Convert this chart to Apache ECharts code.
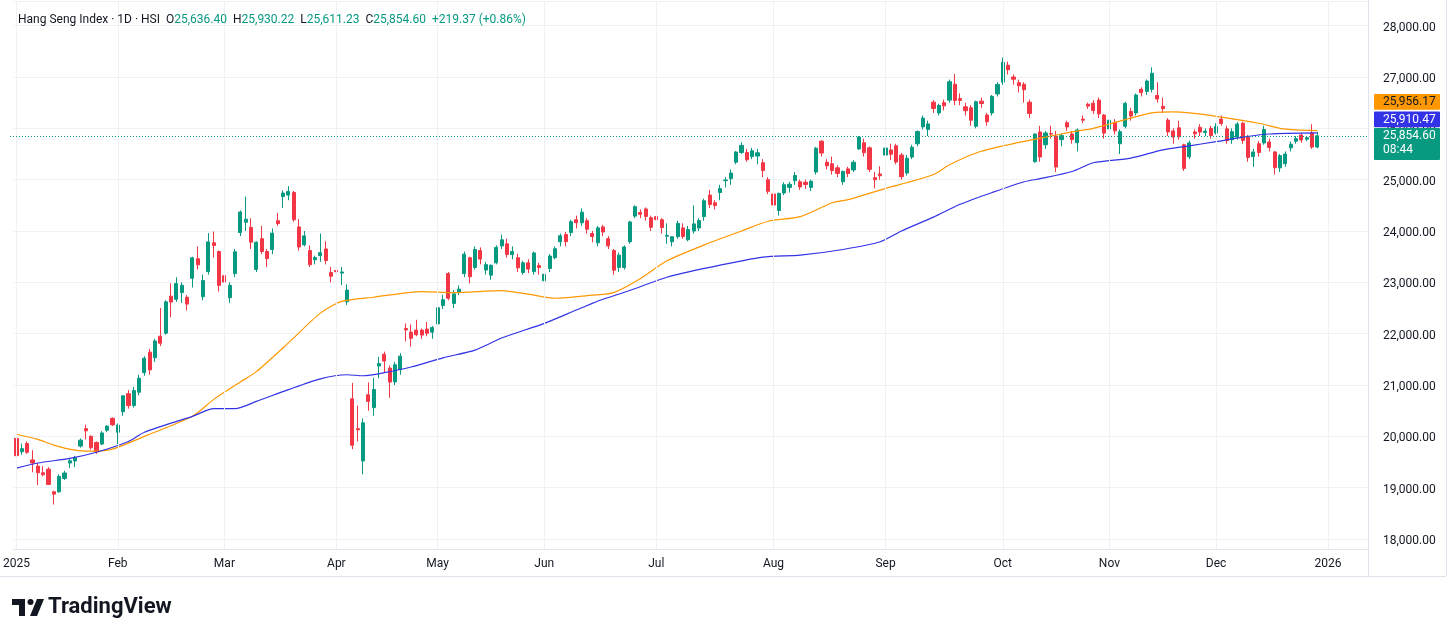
<!DOCTYPE html>
<html><head><meta charset="utf-8">
<script src="https://cdn.jsdelivr.net/npm/echarts@6/dist/echarts.min.js"></script>
<style>html,body{margin:0;padding:0;background:#fff;}#c{width:1456px;height:634px;}</style>
</head><body><div id="c"></div>
<script>
// ---------------- DATA ----------------
const opens = [
19960,19700,19860,19540,19420,19290,19360,18920,18920,19180,
19480,19520,19810,20150,20000,19880,19850,20120,20350,20080,
20480,20830,20600,20860,21240,21640,21530,21950,22010,22730,
22670,22800,22710,23080,23460,22720,23210,23770,23600,23130,
22700,23170,23970,24170,24070,23250,23850,23600,23640,24200,
24670,24700,24750,24080,23730,23620,23440,23520,23650,23190,
23230,23180,22620,20730,20150,19520,20810,20560,21370,21600,
21330,21060,21300,22100,22030,22070,22070,22090,22030,22190,
22550,23170,22590,22800,23170,23480,23290,23620,23240,23140,
23380,23710,23750,23540,23480,23190,23380,23210,23330,23030,
23270,23480,23790,23930,23970,24220,24160,24200,23950,23770,
24080,23850,23620,23290,23290,23790,24290,24360,24430,24260,
24280,24220,23900,23790,23890,24060,23830,24000,24060,24280,
24700,24550,24750,24980,25020,25340,25530,25530,25450,25460,
25330,25000,24720,24400,24740,24850,24980,24960,24950,24850,
25150,25750,25340,25310,25230,24960,25210,25190,25600,25720,
25620,25040,25110,25480,25580,25660,25480,25130,25440,25700,
26030,25980,26510,26300,26500,26550,26860,26580,26420,26400,
26040,26530,26260,26300,26670,26900,27230,27000,26890,26860,
26510,25350,25930,25680,25900,25850,25780,26110,25890,25720,
26180,26470,26490,26550,26260,25990,26120,25700,26040,26330,
26300,26760,26720,26760,26640,26430,26160,25950,26010,25680,
25445,25930,26020,25920,26000,25910,26180,25990,25780,25830,
26100,25830,25450,25700,25715,25735,25540,25230,25310,25620,
25750,25870,25790,25910,25636.40];
const highs = [
19990,19860,19900,19730,19480,19420,19400,18940,19260,19330,
19580,19620,19960,20230,20020,19900,20100,20220,20370,20250,
20800,20900,20960,21200,21560,21700,21900,22500,22650,22980,
23100,23000,22750,23500,23700,23150,23960,23990,23620,23400,
23000,23650,24400,24670,24250,23800,24100,23650,24050,24350,
24790,24874,24780,24230,24000,23720,23520,23950,23800,23300,
23400,23300,22960,21040,20600,20350,21050,21140,21550,21650,
21380,21450,21620,22200,22180,22270,22100,22230,22150,22560,
22760,23200,22850,22940,23600,23500,23700,23680,23400,23350,
23720,23930,23850,23700,23560,23420,23450,23600,23380,23200,
23550,23700,23950,23980,24220,24300,24440,24250,24000,24100,
24120,23900,23650,23580,23720,24200,24500,24420,24460,24300,
24300,24250,24150,23900,24200,24150,24100,24500,24250,24630,
24800,24600,24900,25050,25200,25560,25730,25600,25620,25600,
25400,25050,24750,24750,24950,24960,25150,25000,25000,25000,
25640,25770,25400,25450,25280,25180,25250,25380,25850,25800,
25650,25150,25260,25650,25700,25700,25520,25480,25680,25960,
26250,26150,26550,26480,26560,26950,27060,26680,26500,26450,
26540,26600,26300,26650,26900,27381,27300,27050,26950,26900,
26560,25900,26050,25950,26050,25950,25900,26150,25950,26000,
26250,26500,26550,26600,26280,26200,26180,25980,26520,26400,
26680,26800,26950,27190,26900,26600,26200,26000,26150,25700,
25760,25980,26080,26000,26050,26100,26250,26050,26000,26120,
26130,25870,25600,25750,26050,25800,25560,25500,25550,25740,
25850,25900,25850,26080,25930.22];
const lows = [
19560,19640,19660,19300,19050,19220,19050,18671,18900,19150,
19380,19400,19780,19940,19740,19660,19830,20080,20200,19850,
20400,20540,20560,20800,21180,21200,21450,21760,21980,22320,
22620,22600,22450,22900,23250,22650,23150,23480,22820,22950,
22600,23100,23900,24000,23650,23200,23550,23300,23550,24100,
24450,24600,24180,23620,23700,23300,23350,23400,23350,23000,
23000,22950,22560,19750,19900,19260,20500,20400,21130,21250,
20750,21000,21200,21850,21750,21950,21900,21950,21900,22100,
22480,22650,22500,22750,23100,22980,23250,23350,23150,23050,
23350,23650,23480,23450,23200,23150,23180,23150,23150,22680,
23200,23450,23700,23700,23900,24050,24100,23950,23780,23700,
23900,23650,23150,23200,23250,23750,24250,24250,24200,24000,
24100,23950,23750,23700,23850,23850,23800,23950,24000,24200,
24450,24420,24600,24850,24900,25300,25500,25350,25400,25300,
25050,24720,24400,24300,24700,24750,24900,24800,24820,24780,
25100,25450,25200,25100,25050,24900,25050,25150,25580,25450,
25150,24830,25000,25400,25380,25300,25000,25080,25400,25650,
25980,25850,26300,26250,26350,26500,26450,26450,26250,26050,
26000,26400,26050,26250,26620,26850,27050,26850,26700,26500,
26200,25330,25350,25600,25800,25150,25650,25950,25700,25550,
26100,26380,26280,26200,25800,25950,25880,25500,26000,26150,
26250,26620,26650,26700,26500,26300,25850,25700,25780,25170,
25400,25800,25850,25850,25800,25880,26050,25700,25700,25780,
25700,25350,25250,25450,25680,25550,25100,25150,25250,25550,
25700,25720,25750,25600,25611.23];
const closes = [
19623,19760,19688,19480,19290,19250,19064,18874,19219,19286,
19522,19584,19925,20107,19778,19700,20066,20197,20225,20217,
20789,20597,20891,21133,21522,21294,21857,21814,22620,22616,
22976,22944,22576,23477,23341,23034,23788,23718,22941,23006,
22941,23594,24369,24231,23783,23782,23600,23462,23959,24145,
24740,24771,24219,23689,23905,23344,23483,23578,23426,23119,
23206,23202,22849,19828,20127,20264,20681,20914,21417,21466,
21057,21395,21562,22072,21909,21980,21972,22008,22119,22505,
22662,22691,22775,22868,23549,23108,23640,23453,23345,23332,
23681,23828,23544,23601,23282,23381,23258,23573,23289,23158,
23512,23655,23907,23793,24181,24163,24367,24035,23893,24061,
23981,23711,23237,23530,23690,24177,24474,24325,24284,24072,
24221,24069,23916,23887,24148,23892,24028,24139,24203,24590,
24517,24498,24826,24994,25130,25538,25667,25388,25562,25524,
25177,24773,24507,24733,24902,24910,25081,24858,24907,24969,
25613,25519,25270,25177,25122,25160,25120,25339,25830,25525,
25201,24998,25077,25617,25496,25343,25058,25418,25633,25938,
26200,26086,26388,26446,26438,26908,26544,26545,26344,26159,
26519,26484,26128,26623,26856,27287,27141,26957,26829,26752,
26290,25889,25441,25910,25888,25247,25858,26027,25781,25967,
26160,26433,26346,26282,25907,26159,25952,25935,26486,26241,
26650,26696,26922,27073,26572,26384,25930,25830,25835,25220,
25716,25894,25928,25945,25858,26033,26095,25760,25935,26085,
25765,25434,25540,25530,25976,25628,25235,25468,25498,25690,
25801,25774,25818,25635.23,25854.60];

// moving averages at selected bars (bar index -> value)
const ma50Idx = [0,4,7,11,14,18,24,33,37,42,45,51,57,61,67,76,82,91,96,101,108,112,117,122,130,136,141,147,153,156,164,167,172,175,180,186,192,198,202,209,213,217,220,226,233,237,240,244];
const ma50Val = [20040,19940,19830,19730,19710,19750,20000,20390,20720,21060,21260,21820,22400,22630,22710,22820,22800,22840,22770,22690,22750,22800,23070,23420,23770,24000,24190,24280,24550,24610,24860,24940,25100,25290,25520,25680,25810,25930,26000,26200,26300,26320,26300,26220,26100,26000,25970,25956.17];
const ma100Idx = [0,4,10,15,21,24,33,37,39,41,45,51,57,62,65,69,74,80,86,91,99,105,108,110,115,122,130,140,147,155,162,166,172,177,183,189,192,198,202,209,215,220,225,230,235,244];
const ma100Val = [19380,19480,19570,19690,19900,20080,20390,20540,20540,20540,20680,20910,21120,21200,21180,21240,21350,21530,21680,21915,22200,22460,22590,22670,22840,23100,23290,23490,23530,23640,23790,24000,24270,24520,24750,24960,25020,25160,25330,25420,25580,25660,25740,25830,25890,25910.47];

// time axis
const holidays = ['2025-01-01','2025-01-29','2025-01-30','2025-01-31','2025-04-04','2025-04-18','2025-04-21','2025-05-01','2025-05-05','2025-07-01','2025-10-01','2025-10-07','2025-10-29','2025-12-25','2025-12-26','2026-01-01'];
const monthStarts = ['2025-01-02','2025-02-03','2025-03-03','2025-04-01','2025-05-02','2025-06-02','2025-07-02','2025-08-01','2025-09-01','2025-10-02','2025-11-03','2025-12-01','2026-01-02'];
const monthLabels = ['2025','Feb','Mar','Apr','May','Jun','Jul','Aug','Sep','Oct','Nov','Dec','2026'];
const totalSlots = 254; // trading days incl. empty space to the right of the last bar

// ---------------- BUILD ----------------
const dates = [];
{
  const d = new Date(Date.UTC(2025, 0, 2));
  while (dates.length < totalSlots) {
    const s = d.toISOString().slice(0, 10);
    const w = d.getUTCDay();
    if (w !== 0 && w !== 6 && holidays.indexOf(s) < 0) dates.push(s);
    d.setUTCDate(d.getUTCDate() + 1);
  }
}
const n = closes.length;
const candles = opens.map((o, i) => [o, closes[i], lows[i], highs[i]]);
function sparse(idx, val) {
  const a = new Array(n).fill(null);
  idx.forEach((ix, k) => { a[ix] = val[k]; });
  return a;
}
const fmt = v => Number(v).toLocaleString('en-US', {minimumFractionDigits: 2, maximumFractionDigits: 2});
const FONT = 'Roboto, "Noto Sans", sans-serif';
const TXT = '#131722', UP = '#089981', DN = '#F23645', ORANGE = '#FF9800', BLUE = '#3232E6';

const last = n - 1;
const chg = closes[last] - closes[last - 1];
const pct = chg / closes[last - 1] * 100;

const hdrStyle = c => ({color: c, fontSize: 12, fontFamily: FONT, fontWeight: 'normal'});
const chart = echarts.init(document.getElementById('c'));
const option = {
  animation: false,
  backgroundColor: '#ffffff',
  title: {
    left: 13, top: 9,
    text: '{n|Hang Seng Index · 1D · HSI}{g| }{k|O}{v|' + fmt(opens[last]) + '}{g| }{k|H}{v|' + fmt(highs[last]) + '}{g| }{k|L}{v|' + fmt(lows[last]) + '}{g| }{k|C}{v|' + fmt(closes[last]) + '}{g| }{v|' + (chg >= 0 ? '+' : '') + fmt(chg) + ' (' + (pct >= 0 ? '+' : '') + pct.toFixed(2) + '%)}',
    textStyle: {
      fontWeight: 'normal',
      rich: {
        n: hdrStyle(TXT), k: hdrStyle(TXT), v: hdrStyle(UP),
        g: Object.assign(hdrStyle(TXT), {width: 6})
      }
    }
  },
  grid: {left: 10, right: 88, top: 1, bottom: 85, containLabel: false},
  xAxis: {
    type: 'category', data: dates, boundaryGap: true,
    axisLine: {show: true, lineStyle: {color: '#e0e3eb'}},
    axisTick: {show: false},
    splitLine: {show: false},
    axisLabel: {
      color: TXT, fontSize: 12, fontFamily: FONT, margin: 9,
      interval: (i, v) => monthStarts.indexOf(v) >= 0,
      formatter: v => { const k = monthStarts.indexOf(v); return k >= 0 ? monthLabels[k] : ''; }
    }
  },
  yAxis: {
    type: 'value', position: 'right', min: 17805, max: 28481, splitNumber: 10, scale: true,
    axisLine: {show: false}, axisTick: {show: false},
    axisLabel: {
      showMinLabel: false, showMaxLabel: false, margin: 15,
      formatter: v => '{p|' + fmt(v) + '}',
      rich: {p: {color: TXT, fontSize: 12, fontFamily: FONT, padding: [4, 0, 0, 0]}}
    },
    splitLine: {lineStyle: {color: '#f0f1f4', width: 1}}
  },
  series: [
    {
      type: 'line', data: [], silent: true, z: 0,
      markLine: {
        silent: true, symbol: 'none', label: {show: false},
        lineStyle: {color: '#f0f1f4', type: 'solid', width: 1},
        data: monthStarts.map(d => ({xAxis: d}))
      }
    },
    {
      type: 'candlestick', name: 'HSI', data: candles, barWidth: '68%', z: 2,
      itemStyle: {color: UP, color0: DN, borderColor: UP, borderColor0: DN, borderWidth: 1}
    },
    {
      type: 'line', name: 'MA50', data: sparse(ma50Idx, ma50Val), connectNulls: true, showSymbol: false, smooth: 0.25, z: 3,
      lineStyle: {color: ORANGE, width: 1.2}
    },
    {
      type: 'line', name: 'MA100', data: sparse(ma100Idx, ma100Val), connectNulls: true, showSymbol: false, smooth: 0.25, z: 3,
      lineStyle: {color: BLUE, width: 1.2}
    }
  ]
};
chart.setOption(option);

// last-price line and price tags on the right scale (positioned through the value scale)
const yG = Math.round(chart.convertToPixel({yAxisIndex: 0}, closes[last])) + 0.5;
const bx = 1374, bw = 66;
const tag = (top, h, fill, lines, color) => {
  const els = [{type: 'rect', shape: {x: bx, y: top, width: bw, height: h, r: 1}, style: {fill: fill}, z: 100}];
  lines.forEach((t, k) => els.push({type: 'text', x: 1383, y: top + 8 + k * 14, z: 101,
    style: {text: t, fill: color, font: '12px ' + FONT, verticalAlign: 'middle'}}));
  return els;
};
const gTop = yG - 8.5;
const graphics = [].concat(
  [{type: 'line', shape: {x1: 10, y1: yG, x2: 1368, y2: yG}, style: {stroke: UP, lineWidth: 1, lineDash: [1, 2]}, z: 40}],
  tag(gTop - 34, 15.7, ORANGE, [fmt(ma50Val[ma50Val.length - 1])], TXT),
  tag(gTop - 16.5, 15.7, BLUE, [fmt(ma100Val[ma100Val.length - 1])], '#ffffff'),
  tag(gTop, 32, UP, [fmt(closes[last]), '08:44'], '#ffffff'),
  [
    {type: 'line', shape: {x1: 1368.5, y1: 0, x2: 1368.5, y2: 576}, style: {stroke: '#e0e3eb', lineWidth: 1}, z: 50},
    {type: 'line', shape: {x1: 0, y1: 576.5, x2: 1446, y2: 576.5}, style: {stroke: '#e0e3eb', lineWidth: 1}, z: 50},
    {type: 'line', shape: {x1: 1446.5, y1: 0, x2: 1446.5, y2: 576}, style: {stroke: '#e0e3eb', lineWidth: 1}, z: 50},
    // TradingView logo
    {type: 'polygon', shape: {points: [[12, 599], [25, 599], [25, 616], [19, 616], [19, 605], [12, 605]]}, style: {fill: TXT}, z: 50},
    {type: 'circle', shape: {cx: 30.5, cy: 602, r: 3}, style: {fill: TXT}, z: 50},
    {type: 'polygon', shape: {points: [[37, 599], [44, 599], [37, 616], [30, 616]]}, style: {fill: TXT}, z: 50},
    {type: 'text', x: 48, y: 607.5, z: 50, style: {text: 'TradingView', fill: TXT, font: 'bold 22px ' + FONT, verticalAlign: 'middle'}}
  ]
);
chart.setOption({graphic: graphics});
</script>
</body></html>
